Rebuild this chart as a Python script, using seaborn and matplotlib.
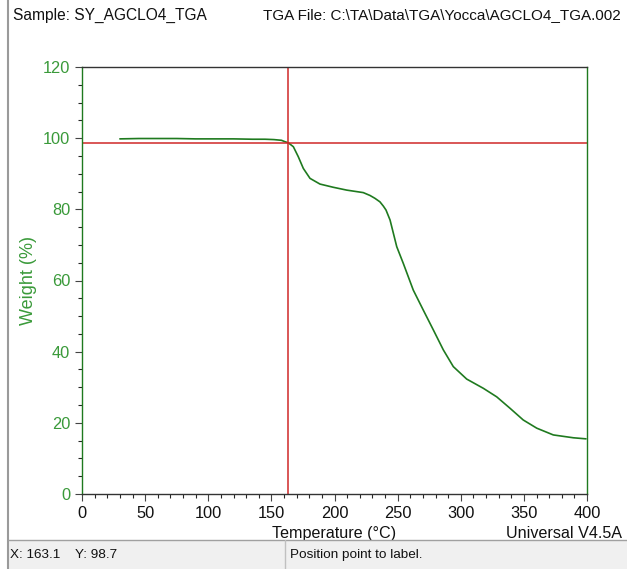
import numpy as np
import pandas as pd
import matplotlib
matplotlib.use('Agg')
import matplotlib.pyplot as plt
import seaborn as sns
from matplotlib.lines import Line2D
from matplotlib.patches import Rectangle

# TGA data
temperature = [30, 45, 60, 75, 90, 105, 120, 135, 145, 152, 158, 160.8, 163.4,
               167.4, 171.3, 175.3, 180.6, 188.5, 199.0, 209.7, 222.8, 228.1,
               232.0, 236.0, 238.7, 240.8, 244.0, 249.3, 254.5, 262.4, 270.3,
               278.3, 286.2, 294.1, 304.7, 317.9, 328.5, 339.0, 349.5, 360.2,
               373.3, 389.2, 399.2]
weight = [99.8, 99.9, 99.9, 99.9, 99.8, 99.8, 99.8, 99.7, 99.7, 99.6, 99.4, 99.0, 98.7,
          97.6, 94.8, 91.5, 88.7, 87.1, 86.2, 85.4, 84.7, 83.9,
          83.1, 82.1, 80.9, 79.8, 77.0, 69.5, 64.8, 57.3, 51.7,
          46.1, 40.5, 35.8, 32.3, 29.7, 27.3, 24.1, 20.8, 18.5,
          16.6, 15.8, 15.5]

cursor_x = 163.1
cursor_y = 98.7

sample_name = 'Sample: SY_AGCLO4_TGA'
file_name = 'TGA File: C:\\TA\\Data\\TGA\\Yocca\\AGCLO4_TGA.002'

df = pd.DataFrame({'Temperature': temperature, 'Weight': weight})

sns.set_style('white')
plt.rcParams['font.family'] = ['Liberation Sans', 'DejaVu Sans']

green = '#1f7a1f'
label_green = '#3a9a3a'
red = '#d02828'

fig = plt.figure(figsize=(6.27, 5.69), dpi=100)
ax = fig.add_axes([82 / 627, 1 - 494 / 569, 505 / 627, 427 / 569])

sns.lineplot(data=df, x='Temperature', y='Weight', color=green, lw=1.2, ax=ax)
ax.axvline(cursor_x, color=red, lw=1.1)
ax.axhline(cursor_y, color=red, lw=1.1)

ax.set_xlim(0, 400)
ax.set_ylim(0, 120)
ax.set_xticks(np.arange(0, 401, 50))
ax.set_xticks(np.arange(0, 401, 10), minor=True)
ax.set_yticks(np.arange(0, 121, 20))
ax.set_yticks(np.arange(0, 121, 5), minor=True)
ax.tick_params(axis='both', which='major', length=5, width=0.8, direction='out',
               labelsize=11.8, bottom=True, left=True)
ax.tick_params(axis='both', which='minor', length=3, width=0.8, direction='out',
               bottom=True, left=True)
ax.tick_params(axis='y', colors='#444444', labelcolor=label_green)
ax.tick_params(axis='x', colors='#444444', labelcolor='#111111')

for s in ['top', 'bottom']:
    ax.spines[s].set_color('#333333')
for s in ['left', 'right']:
    ax.spines[s].set_color(green)
for s in ax.spines.values():
    s.set_linewidth(1.0)

ax.set_xlabel('Temperature (°C)', fontsize=11.6, color='#111111', labelpad=4)
ax.set_ylabel('Weight (%)', fontsize=13, color=label_green)
ax.yaxis.set_label_coords(-0.089, 0.5)
fig.text(622 / 627, 1 - 533 / 569, 'Universal V4.5A', ha='right',
         va='center', fontsize=11.6, color='#111111')

# header
fig.text(13 / 627, 1 - 15 / 569, sample_name, fontsize=11.2, va='center', color='#111111')
fig.text(263 / 627, 1 - 15 / 569, file_name, fontsize=11, va='center', color='#111111')

# window frame and status bar
fig.add_artist(Line2D([8 / 627, 8 / 627], [0, 1], color='#9a9a9a', lw=1.5))
fig.add_artist(Rectangle((8 / 627, 0), 1, 29 / 569, transform=fig.transFigure,
                         facecolor='#f0f0f0', edgecolor='none'))
fig.add_artist(Line2D([8 / 627, 1], [29 / 569, 29 / 569], color='#a0a0a0', lw=1.0))
fig.add_artist(Line2D([285 / 627, 285 / 627], [0, 29 / 569], color='#c0c0c0', lw=1.0))
fig.text(10 / 627, 14 / 569, 'X: 163.1    Y: 98.7', fontsize=9.7, va='center', color='#111111')
fig.text(290 / 627, 14 / 569, 'Position point to label.', fontsize=9.7, va='center', color='#111111')

fig.savefig('out.png', dpi=100)
